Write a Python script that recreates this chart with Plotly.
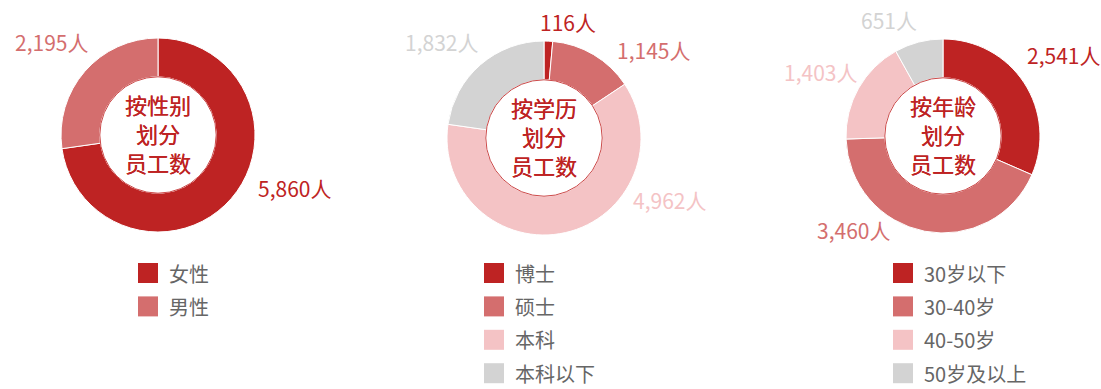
import plotly.graph_objects as go

# ---- data ----
gender_labels = ["女性", "男性"]
gender_values = [5860, 2195]

edu_labels = ["博士", "硕士", "本科", "本科以下"]
edu_values = [116, 1145, 4962, 1832]

age_labels = ["30岁以下", "30-40岁", "40-50岁", "50岁及以上"]
age_values = [2541, 3460, 1403, 651]

center_titles = [
    ["按性别", "划分", "员工数"],
    ["按学历", "划分", "员工数"],
    ["按年龄", "划分", "员工数"],
]

# ---- styling / layout ----
W, H = 1101, 389
FONT = "Noto Sans CJK SC"
PALETTE = ["#BE2323", "#D46E6E", "#F4C3C5", "#D3D3D3"]
TITLE_RED = "#BE2323"
RADIUS = 97
HOLE = 0.6
TITLE_LINE = 29

# pie centres in pixels
centres = [(158, 135), (544, 138), (943, 136)]
# value-label offsets (pixels from pie centre) per slice
label_offsets = [
    [(136, 53), (-106, -93)],
    [(24, -116), (109, -88), (125, 62), (-103, -96)],
    [(120, -81), (-90, 94), (-123, -64), (-54, -116)],
]
# legend square left edges (pixels)
legend_x = [138, 484, 893]
legend_y0 = 273
legend_step = 33.4

panels = [
    (gender_labels, gender_values),
    (edu_labels, edu_values),
    (age_labels, age_values),
]

fig = go.Figure()
annotations = []
shapes = []

def px_x(x):
    return x / W

def px_y(y):
    return 1 - y / H

for i, (labels, values) in enumerate(panels):
    cx, cy = centres[i]
    colors = PALETTE[: len(values)]
    fig.add_trace(go.Pie(
        labels=labels,
        values=values,
        hole=HOLE,
        sort=False,
        direction="clockwise",
        rotation=0,
        marker=dict(colors=colors, line=dict(color="white", width=1)),
        textinfo="none",
        hoverinfo="label+value",
        showlegend=False,
        domain=dict(x=[px_x(cx - RADIUS), px_x(cx + RADIUS)],
                    y=[px_y(cy + RADIUS), px_y(cy - RADIUS)]),
    ))

    # thin ring around the hole
    r_in = RADIUS * HOLE
    shapes.append(dict(
        type="circle", xref="paper", yref="paper",
        xsizemode="pixel", ysizemode="pixel",
        xanchor=px_x(cx), yanchor=px_y(cy),
        x0=-r_in, x1=r_in, y0=-r_in, y1=r_in,
        line=dict(color="#CC4A4A", width=1), fillcolor="rgba(0,0,0,0)",
    ))

    # centre title, one line per annotation
    n = len(center_titles[i])
    for k, line in enumerate(center_titles[i]):
        annotations.append(dict(
            x=px_x(cx), y=px_y(cy + (k - (n - 1) / 2) * TITLE_LINE - 2),
            xref="paper", yref="paper",
            text=line, showarrow=False, borderpad=0,
            xanchor="center", yanchor="middle",
            font=dict(family=FONT, size=22, color=TITLE_RED,
                      shadow="0.25px 0 0 #BE2323"),
        ))

    # value labels
    for j, v in enumerate(values):
        dx, dy = label_offsets[i][j]
        annotations.append(dict(
            x=px_x(cx + dx), y=px_y(cy + dy), xref="paper", yref="paper",
            text=f"{v:,}人", showarrow=False,
            xanchor="center", yanchor="middle",
            font=dict(family=FONT, size=21, color=colors[j]),
        ))

    # legend
    for j, lab in enumerate(labels):
        yc = legend_y0 + j * legend_step
        shapes.append(dict(
            type="rect", xref="paper", yref="paper",
            xsizemode="pixel", ysizemode="pixel",
            xanchor=px_x(legend_x[i]), yanchor=px_y(yc),
            x0=0, x1=20, y0=-10, y1=10,
            line=dict(width=0), fillcolor=colors[j],
        ))
        annotations.append(dict(
            x=px_x(legend_x[i] + 29), y=px_y(yc), xref="paper", yref="paper",
            text=lab, showarrow=False, xanchor="left", yanchor="middle",
            font=dict(family=FONT, size=20, color="#666666"),
        ))

fig.update_layout(
    width=W, height=H,
    margin=dict(l=0, r=0, t=0, b=0),
    paper_bgcolor="white", plot_bgcolor="white",
    annotations=annotations, shapes=shapes,
    font=dict(family=FONT),
)

fig.write_html("out.html", config={"displayModeBar": False})
